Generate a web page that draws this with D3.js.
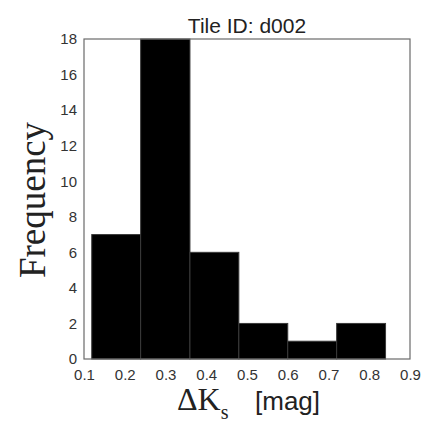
<!DOCTYPE html>
<html lang="en">
<head>
<meta charset="utf-8">
<title>Tile ID: d002</title>
<script src="https://d3js.org/d3.v7.min.js"></script>
<style>
  body { margin: 0; background: #fff; }
  .tick text { font-family: "Liberation Sans", Arial, sans-serif; font-size: 15px; fill: #333; }
</style>
</head>
<body>
<svg id="chart"></svg>
<script>
// histogram bins (ΔKs) and counts
const binEdges = [0.119, 0.239, 0.36, 0.48, 0.60, 0.72, 0.84];
const counts = [7, 18, 6, 2, 1, 2];
const xTicks = [0.1, 0.2, 0.3, 0.4, 0.5, 0.6, 0.7, 0.8, 0.9];
const yTicks = [0, 2, 4, 6, 8, 10, 12, 14, 16, 18];

const width = 436, height = 436;
const margin = {top: 39, right: 26, bottom: 77, left: 84};
const w = width - margin.left - margin.right,
  h = height - margin.top - margin.bottom;

const svg = d3.select('#chart')
  .attr('width', width)
  .attr('height', height);

const chart = svg.append('g')
  .attr('transform', `translate(${margin.left},${margin.top})`);

const x = d3.scaleLinear().domain([0.1, 0.9]).range([0, w]);
const y = d3.scaleLinear().domain([0, 18]).range([h, 0]);

const bins = counts.map((c, i) => ({x0: binEdges[i], x1: binEdges[i + 1], n: c}));

chart.selectAll('.bar')
  .data(bins)
  .enter().append('rect')
  .attr('class', 'bar')
  .attr('x', d => x(d.x0))
  .attr('width', d => x(d.x1) - x(d.x0))
  .attr('y', d => y(d.n))
  .attr('height', d => h - y(d.n))
  .attr('fill', '#000')
  .attr('stroke', '#3a3a3a')
  .attr('stroke-width', 1);

// frame
chart.append('rect')
  .attr('width', w)
  .attr('height', h)
  .attr('fill', 'none')
  .attr('stroke', '#6a6a6a')
  .attr('stroke-width', 1.2);

chart.append('g')
  .attr('transform', `translate(0,${h})`)
  .call(d3.axisBottom(x).tickValues(xTicks).tickFormat(d3.format('.1f')).tickSize(0).tickPadding(10))
  .call(g => g.select('.domain').remove());

chart.append('g')
  .call(d3.axisLeft(y).tickValues(yTicks).tickSize(0).tickPadding(7))
  .call(g => g.select('.domain').remove());

chart.append('text')
  .attr('x', w / 2)
  .attr('y', -6)
  .attr('text-anchor', 'middle')
  .style('font-family', '"Liberation Sans", Arial, sans-serif')
  .style('font-size', '21px')
  .style('fill', '#222')
  .text('Tile ID: d002');

// y label
svg.append('text')
  .attr('transform', 'translate(45,200) rotate(-90)')
  .attr('text-anchor', 'middle')
  .style('font-family', '"Liberation Serif", "Times New Roman", serif')
  .style('font-size', '37px')
  .style('fill', '#222')
  .text('Frequency');

// x label
const xl = svg.append('text')
  .attr('x', margin.left + w / 2 - 70)
  .attr('y', 410)
  .style('fill', '#222');
xl.append('tspan')
  .style('font-family', '"Liberation Serif", "Times New Roman", serif')
  .style('font-size', '32px')
  .text('ΔK');
xl.append('tspan')
  .attr('dy', 9)
  .style('font-family', '"Liberation Serif", "Times New Roman", serif')
  .style('font-size', '20px')
  .text('s');
xl.append('tspan')
  .attr('x', margin.left + w / 2 + 8)
  .attr('dy', -9)
  .style('font-family', '"Liberation Sans", Arial, sans-serif')
  .style('font-size', '26px')
  .text('[mag]');
</script>
</body>
</html>
